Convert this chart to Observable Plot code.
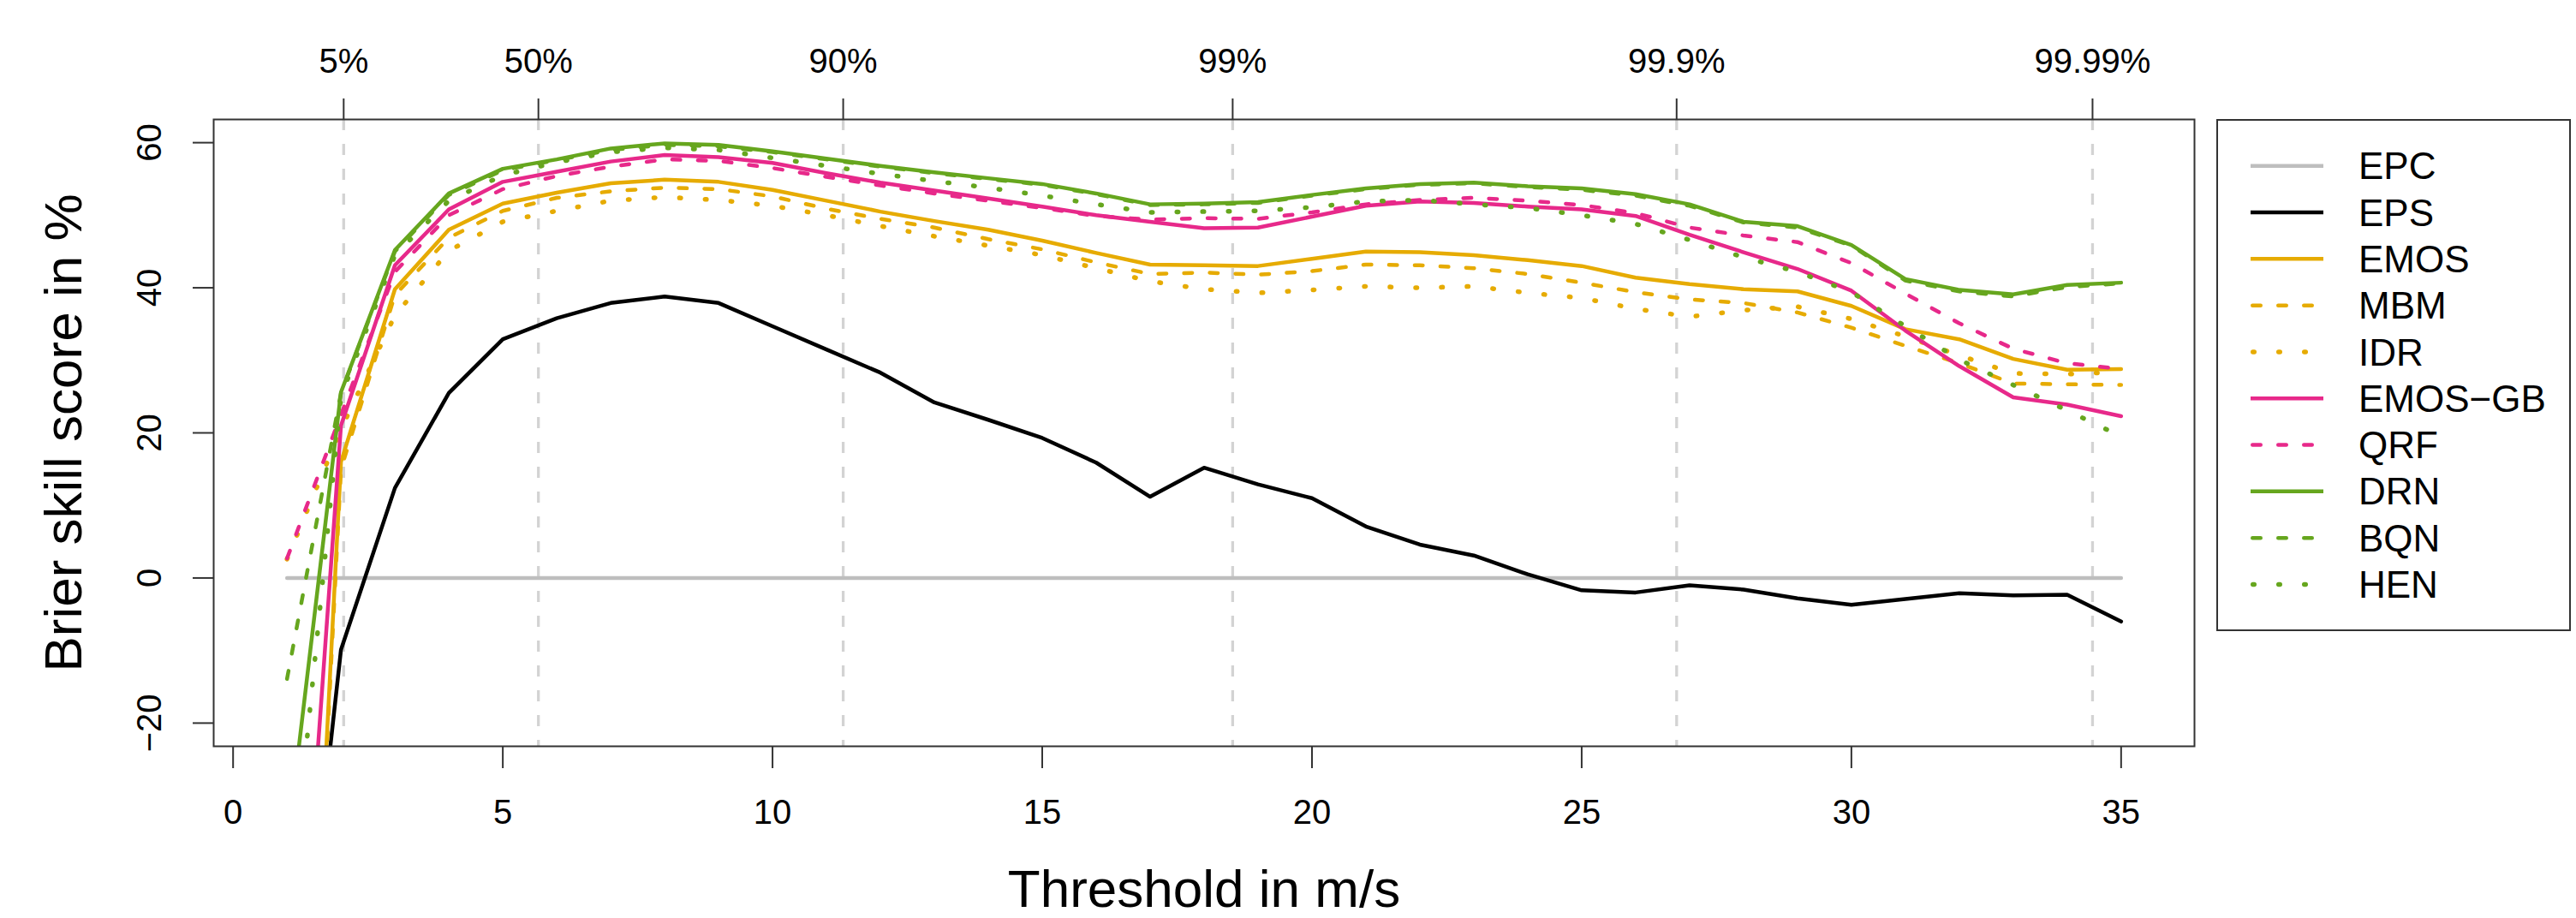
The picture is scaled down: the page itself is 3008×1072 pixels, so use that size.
<!DOCTYPE html>
<html>
<head>
<meta charset="utf-8">
<script src="https://cdn.jsdelivr.net/npm/d3@7"></script>
<script src="https://cdn.jsdelivr.net/npm/@observablehq/plot@0.6"></script>
<style>
  html, body { margin: 0; padding: 0; background: #fff; }
  #wrap { position: relative; width: 3008px; height: 1072px; font-family: "Liberation Sans", Arial, Helvetica, sans-serif; }
  #chart { position: absolute; left: 0; top: 0; }
  #legend { position: absolute; left: 2588px; top: 139px; width: 410px; height: 594px; border: 2px solid #333; background: #fff; }
</style>
</head>
<body>
<div id="wrap"><div id="chart"></div><div id="legend"></div></div>
<script>
// ---------------- data ----------------
const thresholds = [1,2,3,4,5,6,7,8,9,10,11,12,13,14,15,16,17,18,19,20,21,22,23,24,25,26,27,28,29,30,31,32,33,34,35];

const EPC = [0,0,0,0,0,0,0,0,0,0,0,0,0,0,0,0,0,0,0,0,0,0,0,0,0,0,0,0,0,0,0,0,0,0,0];
const EPS = [-77.5,-9.9,12.4,25.5,32.9,35.8,37.9,38.8,37.9,34.7,
             31.5,28.3,24.2,21.8,19.3,15.9,11.2,15.2,12.9,11.0,
             7.1,4.6,3.1,0.5,-1.7,-2.0,-1.0,-1.6,-2.8,-3.7,
             -2.9,-2.1,-2.4,-2.3,-6.0];
const EMOS = [-129,16.0,39.8,48.0,51.6,53.1,54.4,54.9,54.6,53.5,
              52.0,50.5,49.2,48.0,46.5,44.8,43.2,43.1,43.0,44.0,
              45.0,44.9,44.5,43.8,43.0,41.4,40.5,39.8,39.5,37.5,
              34.3,32.9,30.2,28.7,28.8];
const MBM = [-132,15.0,39.0,46.9,50.6,52.4,53.3,53.8,53.6,52.6,
             50.9,49.5,48.3,46.7,45.3,43.5,41.9,42.1,41.8,42.3,
             43.2,43.1,42.7,41.9,40.7,39.4,38.4,37.9,36.6,34.5,
             32.0,29.6,26.8,26.7,26.6];
const IDR = [2.6,20.5,36.2,45.1,49.1,50.6,52.0,52.5,52.1,51.3,
             50.0,48.5,47.1,45.8,44.5,42.7,40.9,39.8,39.3,39.7,
             40.2,40.0,40.2,39.3,38.6,37.1,36.0,36.9,37.4,35.7,
             33.3,30.7,28.2,28.1,28.4];
const EMOS_GB = [-83,21.0,43.1,50.8,54.6,56.0,57.4,58.3,58.0,57.2,
                 55.8,54.5,53.4,52.3,51.2,50.0,49.1,48.2,48.3,49.8,
                 51.3,51.9,51.7,51.2,50.8,49.9,47.3,44.9,42.6,39.6,
                 34.1,29.2,24.9,23.9,22.3];
const QRF = [2.7,22.5,42.2,50.0,53.6,55.4,56.7,57.7,57.5,56.5,
             55.3,54.1,53.0,52.0,51.0,49.9,49.4,49.6,49.5,50.4,
             51.5,52.1,52.4,52.0,51.4,50.3,48.3,47.2,46.3,43.4,
             39.2,35.1,31.6,29.6,28.8];
const DRN = [-37,25.6,45.2,53.0,56.4,57.7,59.2,59.9,59.7,58.8,
             57.8,56.8,55.9,55.1,54.3,53.0,51.5,51.6,51.8,52.8,
             53.7,54.3,54.5,54.0,53.7,52.9,51.5,49.1,48.5,45.9,
             41.2,39.7,39.1,40.4,40.7];
const BQN = [-13.9,25.5,45.0,52.8,56.2,57.6,59.0,59.7,59.5,58.7,
             57.7,56.7,55.8,55.0,54.2,52.9,51.4,51.5,51.7,52.7,
             53.6,54.2,54.4,53.9,53.5,52.7,51.3,49.0,48.3,45.8,
             41.0,39.5,38.8,40.1,40.6];
const HEN = [-50,25.0,44.5,52.0,55.5,57.3,58.7,59.3,59.0,57.9,
             56.8,55.7,54.7,53.8,52.7,51.5,50.4,50.5,50.6,51.1,
             51.9,52.1,51.5,51.0,50.0,48.8,46.6,44.2,42.2,39.4,
             34.7,30.1,26.6,23.1,19.5];

const methodNames = ["EPC","EPS","EMOS","MBM","IDR","EMOS\u2212GB","QRF","DRN","BQN","HEN"];
const methodValues = [EPC, EPS, EMOS, MBM, IDR, EMOS_GB, QRF, DRN, BQN, HEN];

const xTicks = [0,5,10,15,20,25,30,35];
const yTicks = [-20,0,20,40,60];
const yTickLabels = ["\u221220","0","20","40","60"];
const pctPos = [2.05,5.66,11.31,18.53,26.76,34.47];
const pctLabels = ["5%","50%","90%","99%","99.9%","99.99%"];
const xTitle = "Threshold in m/s";
const yTitle = "Brier skill score in %";

// ---------------- styles ----------------
const GOLD = "#E6AB02", PINK = "#E7298A", GREEN = "#66A61E";
const DASH = "9.5,20.5", DOT = "1.5,28.5";
const styles = [
  {color: "#BEBEBE", dash: null, width: 4.5},
  {color: "#000000", dash: null, width: 4.5},
  {color: GOLD, dash: null, width: 4.5},
  {color: GOLD, dash: DASH, width: 4.5},
  {color: GOLD, dash: DOT, width: 5.5},
  {color: PINK, dash: null, width: 4.5},
  {color: PINK, dash: DASH, width: 4.5},
  {color: GREEN, dash: null, width: 4.5},
  {color: GREEN, dash: DASH, width: 4.5},
  {color: GREEN, dash: DOT, width: 5.5}
];

// ---------------- chart ----------------
const W = 2580, H = 1072;
const lineMarks = methodValues.map((vals, k) =>
  Plot.line(thresholds, {
    x: d => d,
    y: (d, i) => vals[i],
    stroke: styles[k].color,
    strokeWidth: styles[k].width,
    strokeDasharray: styles[k].dash,
    strokeLinecap: "round",
    strokeLinejoin: "round",
    clip: true
  })
);

const chart = Plot.plot({
  width: W,
  height: H,
  marginLeft: 249,
  marginRight: W - 2562,
  marginTop: 139,
  marginBottom: H - 871,
  x: {domain: [-0.36, 36.36]},
  y: {domain: [-23.2, 63.2]},
  style: {fontFamily: "'Liberation Sans', Arial, Helvetica, sans-serif", color: "#000", background: "#fff", overflow: "visible"},
  marks: [
    Plot.ruleX(pctPos, {x: d => d, stroke: "#d3d3d3", strokeWidth: 3.3, strokeDasharray: "13,16"}),
    ...lineMarks,
    Plot.frame({stroke: "#333", strokeWidth: 2}),
    Plot.axisX({anchor: "bottom", ticks: xTicks, tickFormat: d => String(d), tickSize: 26, tickPadding: 36, fontSize: 40, label: null, stroke: "#333", strokeWidth: 2}),
    Plot.axisX({anchor: "top", ticks: pctPos, tickFormat: d => pctLabels[pctPos.indexOf(d)], tickSize: 25, tickPadding: 30, fontSize: 40, label: null, stroke: "#333", strokeWidth: 2}),
    Plot.axisY({anchor: "left", ticks: yTicks, tickFormat: () => "", tickSize: 24, label: null, stroke: "#333", strokeWidth: 2}),
    Plot.text(yTicks, {y: d => d, text: (d, i) => yTickLabels[i], frameAnchor: "left", dx: -74, rotate: -90, fontSize: 40, textAnchor: "middle", lineAnchor: "middle"}),
    Plot.text([xTitle], {frameAnchor: "bottom", dy: 187, fontSize: 62, textAnchor: "middle", lineAnchor: "bottom"}),
    Plot.text([yTitle], {frameAnchor: "left", dx: -155, rotate: -90, fontSize: 62, textAnchor: "middle", lineAnchor: "bottom"})
  ]
});
document.getElementById("chart").appendChild(chart);

// ---------------- legend ----------------
const LW = 410, LH = 594;
const leg = d3.select("#legend").append("svg")
  .attr("width", LW).attr("height", LH)
  .style("display", "block")
  .style("font-family", "'Liberation Sans', Arial, Helvetica, sans-serif");
const rowY = i => 52.75 + 54.3 * i;
methodNames.forEach((name, k) => {
  const s = styles[k];
  const inset = s.dash ? s.width / 2 : 0;
  leg.append("line")
    .attr("x1", 38 + inset).attr("x2", 123)
    .attr("y1", rowY(k)).attr("y2", rowY(k))
    .attr("stroke", s.color)
    .attr("stroke-width", s.width)
    .attr("stroke-dasharray", s.dash)
    .attr("stroke-linecap", s.dash ? "round" : "butt");
  leg.append("text")
    .attr("x", 164).attr("y", rowY(k)).attr("dy", "0.355em")
    .attr("font-size", 44).attr("fill", "#000")
    .text(name);
});
</script>
</body>
</html>
